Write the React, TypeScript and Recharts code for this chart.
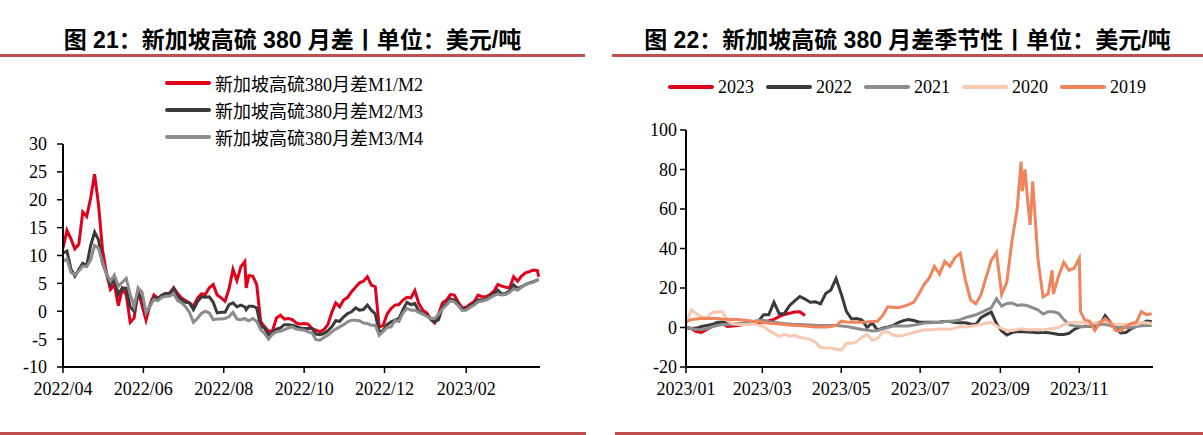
import React from "react";
import { LineChart, Line, XAxis, YAxis } from "recharts";

// 图21：新加坡高硫380月差（美元/吨）
const spreadDates = [
  "2022-04-01", "2022-04-04", "2022-04-07", "2022-04-10", "2022-04-13", "2022-04-16", "2022-04-19", "2022-04-22", "2022-04-25", "2022-04-28",
  "2022-05-01", "2022-05-04", "2022-05-07", "2022-05-10", "2022-05-13", "2022-05-16", "2022-05-19", "2022-05-22", "2022-05-25", "2022-05-28", "2022-05-31",
  "2022-06-03", "2022-06-06", "2022-06-09", "2022-06-12", "2022-06-15", "2022-06-18", "2022-06-21", "2022-06-24", "2022-06-27", "2022-06-30",
  "2022-07-03", "2022-07-06", "2022-07-09", "2022-07-12", "2022-07-15", "2022-07-18", "2022-07-21", "2022-07-24", "2022-07-27", "2022-07-30",
  "2022-08-02", "2022-08-05", "2022-08-08", "2022-08-11", "2022-08-14", "2022-08-17", "2022-08-18", "2022-08-20", "2022-08-23", "2022-08-26", "2022-08-29",
  "2022-09-01", "2022-09-04", "2022-09-07", "2022-09-10", "2022-09-13", "2022-09-16", "2022-09-19", "2022-09-22", "2022-09-25", "2022-09-28",
  "2022-10-01", "2022-10-04", "2022-10-07", "2022-10-10", "2022-10-13", "2022-10-16", "2022-10-19", "2022-10-22", "2022-10-25", "2022-10-28", "2022-10-31",
  "2022-11-03", "2022-11-06", "2022-11-09", "2022-11-12", "2022-11-15", "2022-11-18", "2022-11-21", "2022-11-24", "2022-11-27", "2022-11-30",
  "2022-12-03", "2022-12-06", "2022-12-09", "2022-12-12", "2022-12-15", "2022-12-18", "2022-12-21", "2022-12-24", "2022-12-27", "2022-12-30",
  "2023-01-02", "2023-01-05", "2023-01-08", "2023-01-11", "2023-01-14", "2023-01-17", "2023-01-20", "2023-01-23", "2023-01-26", "2023-01-29",
  "2023-02-01", "2023-02-04", "2023-02-07", "2023-02-10", "2023-02-13", "2023-02-16", "2023-02-19", "2023-02-22", "2023-02-25", "2023-02-28",
  "2023-03-03", "2023-03-06", "2023-03-09", "2023-03-12", "2023-03-15", "2023-03-18", "2023-03-21", "2023-03-24", "2023-03-27", "2023-03-28",
];

const m1m2 = [
  11.3, 14.5, 13, 11.2, 12, 17.8, 17, 20.3, 24.6, 19,
  11, 6.8, 3.9, 4.8, 1.0, 4, 3, -2, -1.2, 3.8, 1,
  -1.6, 1.2, 2.9, 2.3, 2.6, 3.1, 3.3, 4.2, 3.2, 2.4,
  1.9, 1.5, 0.9, 2.3, 3.1, 3, 4.2, 4.8, 2.9, 2.4,
  1.8, 4, 7.5, 5.5, 8, 8.9, 4.2, 6.4, 6.3, 4.8, -1.8,
  -2.8, -3.6, -3.5, -1.2, -0.7, -1.4, -1.3, -1.5, -2.1, -2.3,
  -2.2, -2.3, -3.1, -3.4, -3.7, -3.3, -2.4, -0.2, 1.5, 0.8, 2,
  2.5, 3.5, 4.3, 5.1, 5.4, 6.2, 4.7, 4.4, -2.9, -2.5,
  -0.5, 0.5, 1.1, 1.2, 2, 2.5, 2.4, 3.7, 1.4, 0.2,
  -0.3, -1.4, -2.1, -0.5, 1.5, 2, 3, 2.9, 1.6, 0.6,
  0.7, 1.3, 1.7, 2.9, 2.6, 2.6, 3, 3.6, 4.8, 4.5,
  4.3, 4.2, 6.2, 5.4, 6.3, 6.9, 7.1, 7.4, 7.3, 6.2,
];

const m2m3 = [
  10.4, 10.8, 7.6, 6.3, 7.5, 8.6, 8.2, 11.8, 14.2, 12.8,
  8.6, 6.8, 4.7, 5.7, 3, 4.2, 4.1, 0.8, 0, 3, 2.4,
  -0.3, 0.9, 2.4, 2.3, 2.9, 3.2, 3, 4.1, 2.6, 2,
  1.6, 1.5, 0.3, 1.7, 2.6, 2.5, 2.6, 1.6, -0.3, -0.2,
  -0.2, 1.2, 1.5, 0.8, 1.1, 0.8, 0.3, 0.9, 0.9, 0.6, -2.7,
  -3, -4.3, -3.8, -3.2, -3, -2.4, -2.4, -2.5, -2.7, -3,
  -3.1, -3.1, -3.1, -4.1, -4.2, -4, -3.5, -2.8, -1.7, -1.8, -1,
  -0.4, -0.1, 0.6, 0.2, 0.3, 1.1, 0.2, -0.5, -3.8, -3.4,
  -2.4, -1.9, -1.6, -1.3, 0.3, 1.6, 1.2, 1.4, 0.1, -0.5,
  -0.7, -1.4, -1.9, -1.5, 0.7, 1.4, 2.2, 2, 1.3, 0.3,
  0.3, 1, 1.4, 2, 2, 2.1, 2.7, 3.1, 3.8, 3.1,
  3.2, 3.7, 4.7, 4.1, 4.4, 4.8, 5.1, 5.3, 5.6, 5.7,
];

const m3m4 = [
  8.9, 9.4, 7, 6.5, 7.2, 8.1, 8, 9.2, 11.8, 11.3,
  8.8, 6.7, 5.4, 6.5, 4.5, 5.2, 5.9, 3, 0.9, 4.2, 3.4,
  -0.3, 1, 2.1, 1.9, 2.5, 2.7, 2.7, 3.2, 1.9, 1.5,
  0.8, -0.2, -2, -1.3, -0.4, 0, -0.3, -1.5, -1.4, -1.4,
  -1.3, -1, -0.2, -1.4, -1.5, -1.3, -1.5, -1.7, -1.3, -1.8, -3.3,
  -4, -5, -4.1, -3.7, -3.6, -3.3, -3, -2.8, -3.2, -3.3,
  -3.4, -3.7, -3.9, -5.1, -5.2, -4.7, -4.3, -3.7, -3.2, -2.8, -2.4,
  -1.9, -1.6, -1.6, -1.7, -2.1, -2.2, -2.5, -2.5, -4.3, -3.6,
  -2.9, -2.8, -1.7, -1.8, -0.3, 0.5, 0.2, 0.2, -0.2, -0.5,
  -0.9, -1.3, -1.3, -0.6, 0.4, 1.1, 1.9, 1.7, 1, 0.1,
  0.2, 0.7, 1.1, 1.7, 1.8, 2, 2.4, 2.8, 3.1, 2.9,
  3, 3.4, 4, 3.8, 4.3, 4.8, 5, 5.2, 5.6, 5.7,
];

const spreadXTicks = ["2022-04-01", "2022-06-01", "2022-08-01", "2022-10-01", "2022-12-01", "2023-02-01"];
const spreadYTicks = [-10, -5, 0, 5, 10, 15, 20, 25, 30];
const spreadNames = ["新加坡高硫380月差M1/M2", "新加坡高硫380月差M2/M3", "新加坡高硫380月差M3/M4"];

// 图22：季节性（各年份按 2023 日历对齐）
const seasonDates = [
  "2023-01-01", "2023-01-05", "2023-01-09", "2023-01-13", "2023-01-17", "2023-01-21", "2023-01-25", "2023-01-29",
  "2023-02-02", "2023-02-06", "2023-02-10", "2023-02-14", "2023-02-18", "2023-02-22", "2023-02-26",
  "2023-03-02", "2023-03-06", "2023-03-10", "2023-03-14", "2023-03-18", "2023-03-22", "2023-03-26", "2023-03-30",
  "2023-04-03", "2023-04-07", "2023-04-11", "2023-04-15", "2023-04-19", "2023-04-23", "2023-04-27",
  "2023-05-01", "2023-05-05", "2023-05-09", "2023-05-13", "2023-05-17", "2023-05-21", "2023-05-25", "2023-05-29",
  "2023-06-02", "2023-06-06", "2023-06-10", "2023-06-14", "2023-06-18", "2023-06-22", "2023-06-26", "2023-06-30",
  "2023-07-04", "2023-07-08", "2023-07-12", "2023-07-16", "2023-07-20", "2023-07-24", "2023-07-28",
  "2023-08-01", "2023-08-05", "2023-08-09", "2023-08-13", "2023-08-17", "2023-08-21", "2023-08-25", "2023-08-29",
  "2023-09-02", "2023-09-06", "2023-09-10", "2023-09-14", "2023-09-17", "2023-09-18", "2023-09-20", "2023-09-22", "2023-09-24", "2023-09-26", "2023-09-30",
  "2023-10-04", "2023-10-08", "2023-10-11", "2023-10-12", "2023-10-16", "2023-10-20", "2023-10-24", "2023-10-28",
  "2023-11-01", "2023-11-02", "2023-11-05", "2023-11-09", "2023-11-13", "2023-11-17", "2023-11-21", "2023-11-25", "2023-11-29",
  "2023-12-03", "2023-12-07", "2023-12-11", "2023-12-15", "2023-12-19", "2023-12-23", "2023-12-27",
];

// 2023 only runs to early April
const y2023 = [
  0, -0.5, -2, -2.5, -1, 0.5, 2, 2,
  0.5, 0.8, 1, 1.5, 2.3, 2.4, 2.4,
  2.8, 3.4, 4.1, 5.5, 6.6, 7.2, 7.8, 8,
  6.1,
];

const y2022 = [
  0, -0.5, -0.3, 0.5, 1, 1.5, 2.5, 2.8,
  2.2, 1.5, 1.8, 2.2, 2.5, 3, 3.2,
  6.5, 6.5, 12.8, 7, 7, 11, 13.5, 15.7,
  14.4, 12.8, 13, 12, 17.2, 19, 24.8,
  17, 8.2, 4.3, 4.5, 3.8, 0, 2.4, -1.3,
  -0.3, 0.3, 1, 2.5, 3.5, 4, 3.5, 2.8,
  2.7, 2.7, 2.7, 2.8, 3, 3, 2.5,
  2.4, 2.4, 1.8, 1.5, 5, 6.5, 7.8, 2,
  -1.8, -3.8, -2.6, -2, null, -2.2, null, -2.3, null, -2.4, -2.6,
  -2.4, -2.6, null, -3, -3.5, -3.5, -3, -1,
  0.2, null, 0.6, 0.6, 0.6, 1.5, 6, 2.7, 0,
  -2.7, -2.5, -0.7, 0.5, 1.8, 3.3, 3,
];

const y2021 = [
  0, -0.5, -1, -1, -0.5, 0.3, 1, 1.5,
  1.5, 1.5, 2, 2.2, 2.5, 3, 3.5,
  3.5, 3, 2.7, 2.3, 2, 1.8, 1.5, 1.5,
  1.4, 1.3, 1.1, 1, 1, 1, 1,
  0.8, 0.5, 0, -0.5, -1, -1.3, -1.8, -1.5,
  -0.7, 0, 0.7, 0.7, 0.7, 0.8, 1.2, 1.6,
  2.3, 2.4, 2.5, 2.5, 3, 3.2, 3.4,
  4, 5, 5.7, 6.4, 7.5, 8.8, 10, 14.5,
  10.8, 12.2, 12.4, 11.2, null, 11.5, null, 11, null, 10, 9,
  6.8, 8, null, 8, 7.2, 4, 1.5, 0.7,
  0.6, null, 0.4, 0.7, 1.4, 1.8, 1.5, 1, 0,
  0, 0, -0.1, 0.5, 0.9, 1, 1,
];

const y2020 = [
  1, 9, 7, 5.5, 5, 7.4, 8, 8,
  3.5, 2, 1.5, 1.5, 1.5, 2, 1.2,
  0.5, -1.5, -3, -4.5, -3.5, -4.3, -4, -5,
  -5.5, -6, -7.5, -10, -10.5, -10.3, -11,
  -11.5, -8, -8, -7.3, -5, -3.5, -6.4, -5.5,
  -2.3, -2.3, -3.8, -4.3, -4, -3.2, -2.5, -1.8,
  -1.2, -1.3, -1, -0.8, -0.8, -1, -0.3,
  0.5, 0.2, 0.6, 1, 1.5, 2.3, 2.5, 0.8,
  -0.5, -1.5, -1.5, -1, null, -0.7, null, -1.2, null, -1.2, -1,
  -1.3, -0.8, null, -0.5, 0, 1.5, 2.3, 2.6,
  2.7, null, 2.4, 2, 2.4, 2.8, 3.1, 2.4, 1.6,
  1.5, 1.5, 1.5, 1.5, 2.4, 2.4, 2,
];

const y2019 = [
  3, 4, 4.3, 4.5, 4.5, 4.5, 4.5, 4.3,
  4.2, 4, 4, 3.8, 3.5, 3, 3,
  2.5, 2.2, 2, 1.8, 1.5, 1.2, 1, 1,
  0.8, 0.5, 0.3, 0.2, 0.3, 0.5, 1,
  3.2, 2.8, 2.7, 2.6, 2.6, 2.8, 3, 3.2,
  6, 10.5, 10.3, 10, 10.7, 11.6, 12.8, 17,
  21.7, 25, 31, 27, 33.5, 31, 35.5,
  37.5, 24, 14, 12, 16.5, 25.5, 34, 38,
  16.8, 23, 44, 60, 84, 69, 80, 65, 52, 74, 35,
  15.5, 17, 29, 17, 26, 33, 29, 30,
  35, 8, 4, 3.2, -1.5, 2.5, 4.5, 2.5, -1.5,
  -1.8, 0.5, 2, 2.5, 8, 6.5, 7,
];

const seasonXTicks = ["2023-01-01", "2023-03-01", "2023-05-01", "2023-07-01", "2023-09-01", "2023-11-01"];
const seasonYTicks = [-20, 0, 20, 40, 60, 80, 100];
const seasonYears = ["2023", "2022", "2021", "2020", "2019"];

const RED = "#E0001B";
const DARK = "#3A3A3A";
const GRAY = "#8C8C8C";
const PEACH = "#F8C9AF";
const SALMON = "#EF845D";
const RULE = "#C0504D";

const serif = '"Liberation Serif", "Noto Sans CJK SC", serif';
const titleFont = '"Liberation Sans", "Noto Sans CJK SC", sans-serif';

const toTime = (s: string) => Date.parse(s + "T00:00:00Z");
const fmtMonth = (t: number) => {
  const d = new Date(t);
  return `${d.getUTCFullYear()}/${String(d.getUTCMonth() + 1).padStart(2, "0")}`;
};

const spreadData = spreadDates.map((d, i) => ({
  t: toTime(d),
  m1m2: m1m2[i],
  m2m3: m2m3[i],
  m3m4: m3m4[i],
}));

const seasonData = seasonDates.map((d, i) => ({
  t: toTime(d),
  y2023: y2023[i] ?? null,
  y2022: y2022[i],
  y2021: y2021[i],
  y2020: y2020[i],
  y2019: y2019[i],
}));

const tickStyle = { fill: "#000", fontSize: 18, fontFamily: serif };
const axisLine = { stroke: "#000", strokeWidth: 2 };
const tickLine = { stroke: "#000", strokeWidth: 1.5 };

function Title({ left, width, text }: { left: number; width: number; text: string }) {
  return (
    <>
      <div
        style={{
          position: "absolute",
          left,
          top: 26,
          width,
          height: 28,
          lineHeight: "28px",
          textAlign: "center",
          fontFamily: titleFont,
          fontWeight: 700,
          fontSize: 23,
          color: "#000",
          whiteSpace: "nowrap",
        }}
      >
        {text}
      </div>
      <div style={{ position: "absolute", left, top: 54, width, height: 3, background: RULE }} />
    </>
  );
}

function LegendItem({ color, label }: { color: string; label: string }) {
  return (
    <div style={{ display: "flex", alignItems: "center", height: 24 }}>
      <span style={{ width: 46, height: 4, borderRadius: 2, background: color, marginRight: 4 }} />
      <span style={{ fontFamily: serif, fontSize: 18, color: "#000", whiteSpace: "nowrap" }}>{label}</span>
    </div>
  );
}

export default function App() {
  const spreadColors = [RED, DARK, GRAY];
  const seasonColors = [RED, DARK, GRAY, PEACH, SALMON];

  return (
    <div style={{ position: "absolute", left: 0, top: 0, width: 1203, height: 435, background: "#fff", overflow: "hidden" }}>
      <Title left={0} width={585} text="图 21：新加坡高硫 380 月差丨单位：美元/吨" />
      <Title left={612} width={591} text="图 22：新加坡高硫 380 月差季节性丨单位：美元/吨" />

      <div style={{ position: "absolute", left: 165, top: 71, display: "flex", flexDirection: "column", gap: 3 }}>
        {spreadNames.map((n, i) => (
          <LegendItem key={n} color={spreadColors[i]} label={n} />
        ))}
      </div>

      <div style={{ position: "absolute", left: 668, top: 75, display: "flex", gap: 12 }}>
        {seasonYears.map((y, i) => (
          <LegendItem key={y} color={seasonColors[i]} label={y} />
        ))}
      </div>

      <div style={{ position: "absolute", left: 0, top: 0 }}>
        <LineChart width={600} height={435} data={spreadData} margin={{ top: 144, right: 60, left: 0, bottom: 38 }}>
          <XAxis
            dataKey="t"
            type="number"
            domain={[toTime("2022-04-01"), toTime("2023-03-29")]}
            ticks={spreadXTicks.map(toTime)}
            tickFormatter={fmtMonth}
            interval={0}
            height={30}
            tickSize={6}
            tickMargin={9}
            tick={tickStyle}
            axisLine={axisLine}
            tickLine={tickLine}
            allowDataOverflow
          />
          <YAxis
            domain={[-10, 30]}
            ticks={spreadYTicks}
            interval={0}
            width={63}
            tickSize={6}
            tickMargin={10}
            tick={tickStyle}
            axisLine={axisLine}
            tickLine={tickLine}
            allowDataOverflow
          />
          <Line dataKey="m1m2" stroke={RED} strokeWidth={3} dot={false} activeDot={false} isAnimationActive={false} />
          <Line dataKey="m2m3" stroke={DARK} strokeWidth={3} dot={false} activeDot={false} isAnimationActive={false} />
          <Line dataKey="m3m4" stroke={GRAY} strokeWidth={3} dot={false} activeDot={false} isAnimationActive={false} />
        </LineChart>
      </div>

      <div style={{ position: "absolute", left: 600, top: 0 }}>
        <LineChart width={603} height={435} data={seasonData} margin={{ top: 130, right: 50, left: 0, bottom: 38 }}>
          <XAxis
            dataKey="t"
            type="number"
            domain={[toTime("2023-01-01"), toTime("2023-12-28")]}
            ticks={seasonXTicks.map(toTime)}
            tickFormatter={fmtMonth}
            interval={0}
            height={30}
            tickSize={6}
            tickMargin={9}
            tick={tickStyle}
            axisLine={axisLine}
            tickLine={tickLine}
            allowDataOverflow
          />
          <YAxis
            domain={[-20, 100]}
            ticks={seasonYTicks}
            interval={0}
            width={86}
            tickSize={6}
            tickMargin={3}
            tick={tickStyle}
            axisLine={axisLine}
            tickLine={tickLine}
            allowDataOverflow
          />
          <Line dataKey="y2023" stroke={RED} strokeWidth={3} dot={false} activeDot={false} isAnimationActive={false} connectNulls={false} />
          <Line dataKey="y2022" stroke={DARK} strokeWidth={3} dot={false} activeDot={false} isAnimationActive={false} connectNulls />
          <Line dataKey="y2021" stroke={GRAY} strokeWidth={3} dot={false} activeDot={false} isAnimationActive={false} connectNulls />
          <Line dataKey="y2020" stroke={PEACH} strokeWidth={3} dot={false} activeDot={false} isAnimationActive={false} connectNulls />
          <Line dataKey="y2019" stroke={SALMON} strokeWidth={3} dot={false} activeDot={false} isAnimationActive={false} connectNulls />
        </LineChart>
      </div>

      <div style={{ position: "absolute", left: 0, top: 432, width: 586, height: 3, background: RULE }} />
      <div style={{ position: "absolute", left: 615, top: 432, width: 588, height: 3, background: RULE }} />
    </div>
  );
}
